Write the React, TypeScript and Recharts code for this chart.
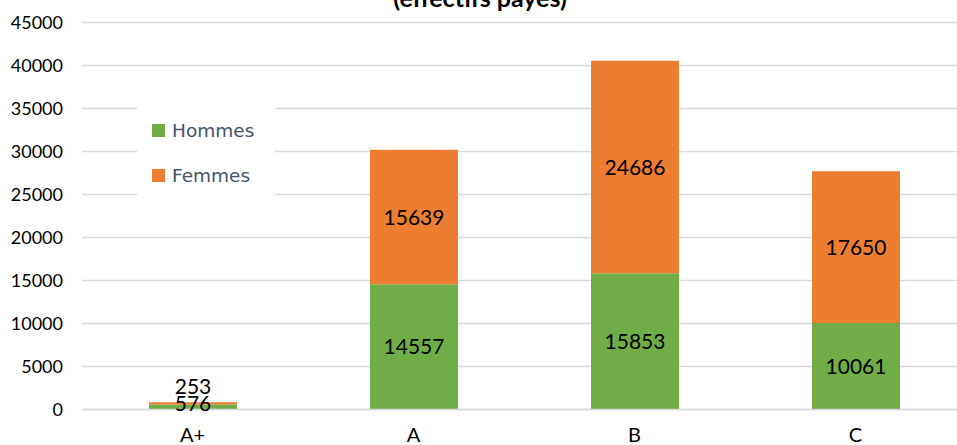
import React from "react";
import { BarChart, Bar, XAxis, YAxis, CartesianGrid, Legend, LabelList } from "recharts";

const categories = ["A+", "A", "B", "C"];
const hommes = [576, 14557, 15853, 10061];
const femmes = [253, 15639, 24686, 17650];
const yTicks = [0, 5000, 10000, 15000, 20000, 25000, 30000, 35000, 40000, 45000];
const seriesNames = ["Hommes", "Femmes"];
const seriesColors = ["#70AD47", "#ED7D31"];
const title = "(effectifs payés)";

const data = categories.map((c, i) => ({ cat: c, Hommes: hommes[i], Femmes: femmes[i] }));

const makeLabel = (smallShift: number) => (props: any) => {
  const { x, y, width, height, value } = props;
  const cx = Number(x) + Number(width) / 2;
  let cy = Number(y) + Number(height) / 2;
  if (Math.abs(Number(height)) < 20) cy += smallShift;
  return (
    <text
      x={cx}
      y={cy}
      dy="0.36em"
      textAnchor="middle"
      fill="#000"
      style={{ fontFamily: "Lato, sans-serif", fontSize: 21 }}
    >
      {value}
    </text>
  );
};

const LegendBox = () => (
  <div
    style={{
      background: "#fff",
      width: 138,
      height: 100,
      boxSizing: "border-box",
      paddingLeft: 15,
      paddingTop: 20,
      fontFamily: "'DejaVu Sans', sans-serif",
      fontSize: 18.5,
      color: "#44546A",
    }}
  >
    {seriesNames.map((n, i) => (
      <div key={n} style={{ display: "flex", alignItems: "center", height: 20, marginBottom: 25 }}>
        <span style={{ display: "inline-block", width: 13, height: 13, background: seriesColors[i], marginRight: 7 }} />
        <span>{n}</span>
      </div>
    ))}
  </div>
);

export default function App() {
  return (
    <div style={{ position: "absolute", left: 0, top: 0, width: 957, height: 445, overflow: "hidden", background: "#fff" }}>
      <BarChart width={966} height={445} data={data} margin={{ top: 22.5, right: 0, bottom: 0, left: 0 }}>
        <CartesianGrid vertical={false} stroke="#D9D9D9" strokeWidth={1.5} />
        <XAxis
          dataKey="cat"
          height={35.5}
          tickLine={false}
          tickSize={0}
          tickMargin={18.5}
          axisLine={{ stroke: "#D9D9D9", strokeWidth: 1.5 }}
          tick={{ fill: "#000", fontFamily: "Lato, sans-serif", fontSize: 20 }}
        />
        <YAxis
          width={82}
          domain={[0, 45000]}
          ticks={yTicks}
          interval={0}
          tickLine={false}
          tickSize={0}
          tickMargin={19}
          axisLine={false}
          tick={{ fill: "#000", fontFamily: "Lato, sans-serif", fontSize: 18 }}
        />
        <Legend
          layout="horizontal"
          verticalAlign="middle"
          align="center"
          content={<LegendBox />}
          wrapperStyle={{ left: 137, top: 100, width: 138, height: 100 }}
        />
        <Bar dataKey="Hommes" stackId="s" fill={seriesColors[0]} barSize={88} isAnimationActive={false}>
          <LabelList dataKey="Hommes" content={makeLabel(-4)} />
        </Bar>
        <Bar dataKey="Femmes" stackId="s" fill={seriesColors[1]} barSize={88} isAnimationActive={false}>
          <LabelList dataKey="Femmes" content={makeLabel(-17)} />
        </Bar>
      </BarChart>
      <svg style={{ position: "absolute", left: 0, top: 0 }} width={957} height={20}>
        <text x={480} y={7} textAnchor="middle" fill="#000" style={{ fontFamily: "Lato, sans-serif", fontSize: 25, fontWeight: 700 }}>
          {title}
        </text>
      </svg>
    </div>
  );
}
